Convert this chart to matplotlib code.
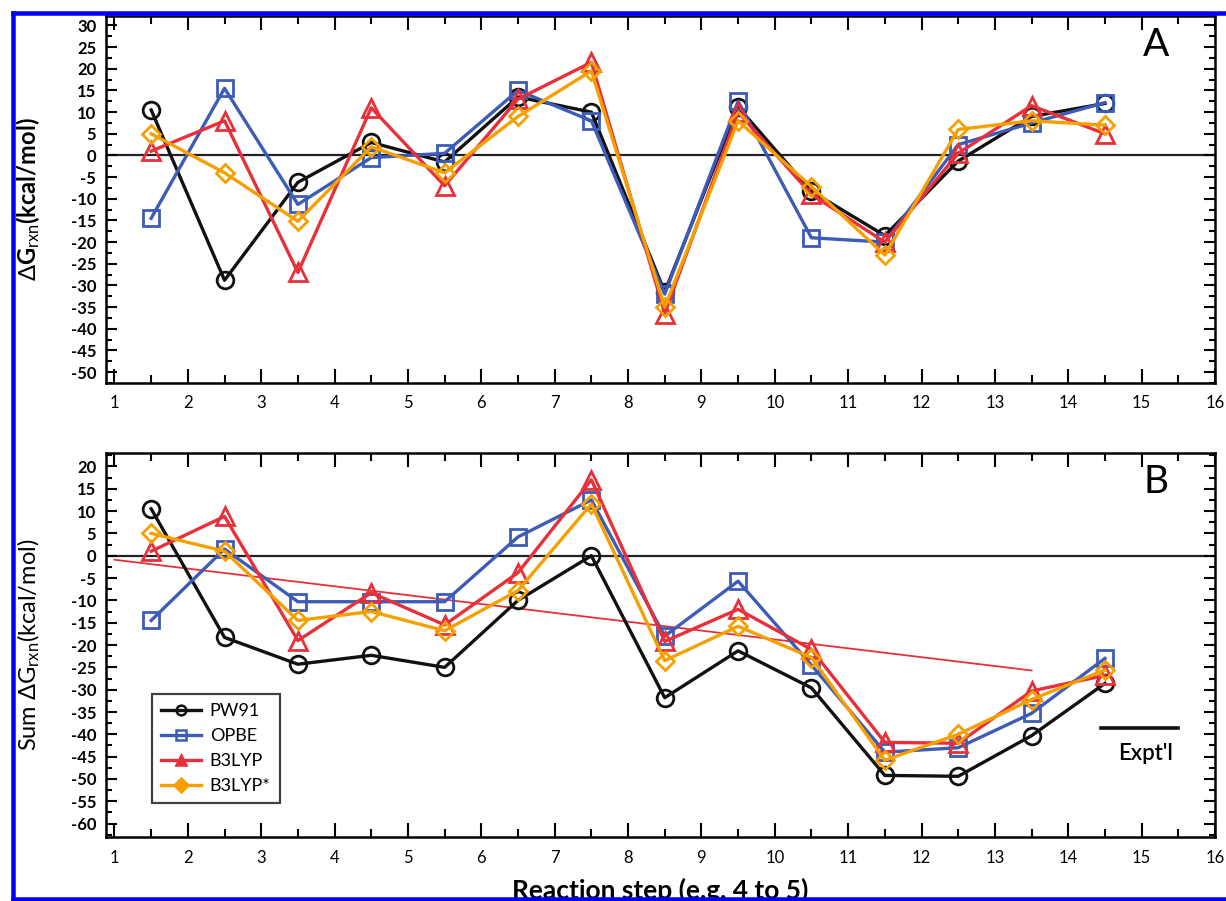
import matplotlib
matplotlib.use('Agg')
import matplotlib.pyplot as plt
from matplotlib.lines import Line2D

plt.rcParams['font.family'] = ['Lato', 'DejaVu Sans']
plt.rcParams['axes.unicode_minus'] = False
plt.rcParams['mathtext.fontset'] = 'custom'
plt.rcParams['mathtext.rm'] = 'Lato'
plt.rcParams['mathtext.it'] = 'Lato:italic'
plt.rcParams['mathtext.bf'] = 'Lato:bold'

# reaction steps (midpoints between states)
steps = [1.5, 2.5, 3.5, 4.5, 5.5, 6.5, 7.5, 8.5, 9.5, 10.5, 11.5, 12.5, 13.5, 14.5]

# panel A: dG_rxn per step (kcal/mol)
pw91_a = [10.5, -28.8, -6.2, 3.0, -1.5, 13.5, 10.0, -31.5, 11.2, -8.3, -18.5, -1.3, 9.0, 12.0]
opbe_a = [-14.5, 15.5, -11.3, -0.5, 0.5, 15.0, 8.0, -32.0, 12.5, -19.0, -20.0, 2.5, 7.5, 12.2]
b3lyp_a = [1.0, 8.0, -27.0, 11.0, -7.0, 13.0, 21.5, -36.5, 10.0, -9.0, -20.0, 0.5, 11.5, 5.0]
b3lyps_a = [5.0, -4.0, -15.2, 2.0, -4.0, 9.0, 19.5, -35.0, 8.0, -7.2, -23.0, 6.0, 8.0, 7.0]

# panel B: running sum of dG_rxn (kcal/mol)
pw91_b = [10.5, -18.3, -24.3, -22.3, -25.0, -10.0, 0.0, -31.8, -21.3, -29.6, -49.2, -49.4, -40.3, -28.6]
opbe_b = [-14.5, 1.5, -10.3, -10.3, -10.3, 4.2, 12.5, -18.0, -5.7, -24.5, -44.0, -43.0, -35.3, -23.0]
b3lyp_b = [1.0, 8.8, -19.0, -8.3, -15.5, -3.8, 17.0, -19.2, -12.0, -21.0, -41.8, -42.0, -30.3, -26.8]
b3lyps_b = [5.0, 1.0, -14.5, -12.5, -16.8, -7.8, 11.6, -23.5, -15.8, -22.8, -45.8, -40.0, -32.2, -25.6]

trend_x = [1.0, 13.5]
trend_y = [-0.9, -25.7]
expt_x = [14.45, 15.5]
expt_y = -38.5

names = ['PW91', 'OPBE', 'B3LYP', 'B3LYP*']
colors = ['#111111', '#3d5cb8', '#e8303a', '#f5a000']
markers = ['o', 's', '^', 'D']
msizes = [12, 12, 13, 9]
legend_fill = ['none', 'none', '#e8303a', '#f5a000']

fig = plt.figure(figsize=(12.26, 9.01), dpi=100)
ax_a = fig.add_axes([0.0865, 0.575, 0.9045, 0.4073])
ax_b = fig.add_axes([0.0865, 0.071, 0.9045, 0.4262])


def style_axis(ax, ylim):
    ax.set_xlim(0.885, 16)
    ax.set_xticks(range(1, 17))
    ax.set_xticks([i + 0.5 for i in range(1, 16)], minor=True)
    ax.set_yticks(range(-60, 35, 5))
    ax.set_yticks([i + 2.5 for i in range(-65, 30, 5)], minor=True)
    ax.set_ylim(*ylim)
    ax.tick_params(which='both', direction='in', top=True, right=True, width=1.5)
    ax.tick_params(which='major', length=8, labelsize=12, pad=7)
    ax.tick_params(which='minor', length=4)
    ax.tick_params(axis='x', which='major', length=10, pad=9)
    ax.tick_params(axis='x', which='minor', length=6)
    for lab in ax.get_yticklabels():
        lab.set_fontweight('bold')
    for sp in ax.spines.values():
        sp.set_linewidth(1.8)
    ax.axhline(0, color='#222222', lw=1.6, zorder=1)


style_axis(ax_a, (-52.5, 32.2))
style_axis(ax_b, (-63, 23))

for series, ax in [((pw91_a, opbe_a, b3lyp_a, b3lyps_a), ax_a),
                   ((pw91_b, opbe_b, b3lyp_b, b3lyps_b), ax_b)]:
    for vals, c, m, ms in zip(series, colors, markers, msizes):
        ax.plot(steps, vals, color=c, lw=2.4, marker=m, ms=ms, mfc='none',
                mec=c, mew=2.0, zorder=3)

ax_b.plot(trend_x, trend_y, color='#e8303a', lw=1.3, zorder=2)
ax_b.plot(expt_x, [expt_y, expt_y], color='#111111', lw=2.6)
ax_b.text(15.05, expt_y - 5.8, "Expt'l", ha='center', va='center',
          fontsize=16, fontweight='semibold')

ax_a.text(15.2, 25.5, 'A', fontsize=28, ha='center', va='center')
ax_b.text(15.2, 16.5, 'B', fontsize=28, ha='center', va='center')

ax_a.set_ylabel(r'$\Delta$G$_{\rm rxn}$(kcal/mol)', fontsize=17, fontweight='bold')
ax_b.set_ylabel(r'Sum $\Delta$G$_{\rm rxn}$(kcal/mol)', fontsize=17)
ax_a.yaxis.set_label_coords(-0.058, 0.5)
ax_b.yaxis.set_label_coords(-0.058, 0.5)
ax_b.set_xlabel('Reaction step (e.g. 4 to 5)', fontsize=19, fontweight='bold',
                labelpad=9)

handles = [Line2D([], [], color=c, lw=2.4, marker=m, ms=7, mfc=f, mec=c, mew=1.8)
           for c, m, f in zip(colors, markers, legend_fill)]
leg = ax_b.legend(handles, names, loc='upper left', bbox_to_anchor=(0.0415, 0.372),
                  fontsize=13, frameon=True, fancybox=False, handlelength=2.2,
                  labelspacing=0.5, borderpad=0.5, handletextpad=0.5,
                  borderaxespad=0)
leg.get_frame().set_edgecolor('#111111')
leg.get_frame().set_linewidth(1.6)

# blue frame of the original image (open on the right)
bw = 4.5 * 72 / 100
fig.add_artist(Line2D([13 / 1226, 13 / 1226], [2 / 901, 1 - 13 / 901],
                      color='#0000ff', lw=bw, solid_capstyle='projecting'))
fig.add_artist(Line2D([13 / 1226, 1.01], [1 - 13 / 901, 1 - 13 / 901],
                      color='#0000ff', lw=bw, solid_capstyle='projecting'))
fig.add_artist(Line2D([13 / 1226, 1.01], [2 / 901, 2 / 901],
                      color='#0000ff', lw=bw, solid_capstyle='projecting'))

fig.savefig('out.png', dpi=100)
